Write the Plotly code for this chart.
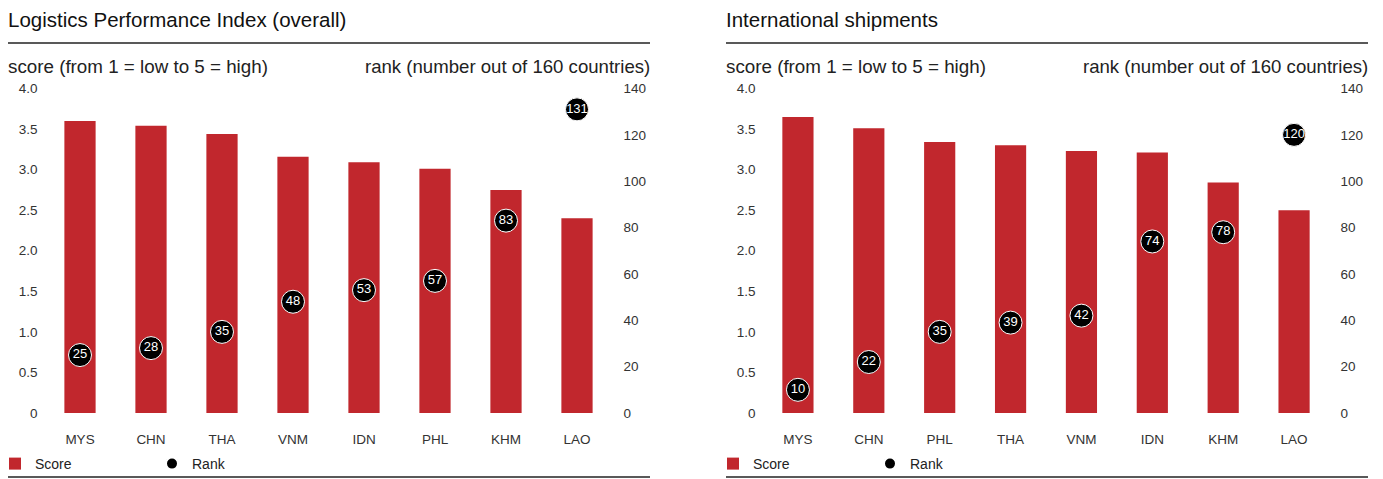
import plotly.graph_objects as go

W, H = 1383, 479
OFF = 8  # page body margin compensation

# ---- data ----
lpi_countries = ["MYS", "CHN", "THA", "VNM", "IDN", "PHL", "KHM", "LAO"]
lpi_scores = [3.60, 3.54, 3.44, 3.16, 3.09, 3.01, 2.75, 2.40]
lpi_ranks = [25, 28, 35, 48, 53, 57, 83, 131]

ship_countries = ["MYS", "CHN", "PHL", "THA", "VNM", "IDN", "KHM", "LAO"]
ship_scores = [3.65, 3.51, 3.34, 3.30, 3.23, 3.21, 2.84, 2.50]
ship_ranks = [10, 22, 35, 39, 42, 74, 78, 120]

score_ticks = [0, 0.5, 1.0, 1.5, 2.0, 2.5, 3.0, 3.5, 4.0]
score_ticktext = ["0", "0.5", "1.0", "1.5", "2.0", "2.5", "3.0", "3.5", "4.0"]
rank_ticks = [0, 20, 40, 60, 80, 100, 120, 140]

titles = ["Logistics Performance Index (overall)", "International shipments"]
left_sub = "score (from 1 = low to 5 = high)"
right_sub = "rank (number out of 160 countries)"

RED = "#C1272D"
FONT = "Liberation Sans, Arial, sans-serif"
TXT = "#222222"


def px(x):
    return (x - OFF) / W


def py(y):
    return 1 - (y - OFF) / H


fig = go.Figure()

panels = [
    (lpi_countries, lpi_scores, lpi_ranks, "x", "y", "y2", "legend"),
    (ship_countries, ship_scores, ship_ranks, "x2", "y3", "y4", "legend2"),
]

for cats, scores, ranks, xa, ya, ya2, lg in panels:
    fig.add_trace(go.Bar(
        x=cats, y=scores, name="Score", marker=dict(color=RED, line=dict(width=0)),
        width=0.44, xaxis=xa, yaxis=ya, legend=lg,
    ))
    fig.add_trace(go.Scatter(
        x=cats, y=ranks, name="Rank", mode="markers+text",
        text=[str(r) for r in ranks], textposition="middle center",
        textfont=dict(color="white", size=13, family=FONT),
        marker=dict(color="black", size=23, line=dict(color="white", width=1)),
        xaxis=xa, yaxis=ya2, legend=lg, cliponaxis=False,
    ))

ydom = [py(413), py(88.5)]
axis_font = dict(family=FONT, size=13.5, color="#333333")
cat_font = dict(family=FONT, size=13.5, color="#333333")

common_x = dict(showgrid=False, zeroline=False, showline=False, ticks="",
                tickfont=cat_font, ticklabelstandoff=16, fixedrange=True,
                automargin=False, range=[-0.5, 7.5], type="category")
common_y = dict(showgrid=False, zeroline=False, showline=False, ticks="",
                tickfont=axis_font, fixedrange=True, automargin=False)

leg_common = dict(orientation="h", xanchor="left", yanchor="middle",
                  entrywidth=112, entrywidthmode="pixels", itemsizing="constant",
                  font=dict(family=FONT, size=14, color=TXT), bgcolor="rgba(0,0,0,0)",
                  traceorder="normal", borderwidth=0)

fig.update_layout(
    template="none",
    xaxis=dict(domain=[px(44.5), px(612.5)], anchor="y", **common_x),
    yaxis=dict(domain=ydom, range=[0, 4], tickvals=score_ticks, ticktext=score_ticktext,
               anchor="x", ticklabelstandoff=6, **common_y),
    yaxis2=dict(range=[0, 140], tickvals=rank_ticks, overlaying="y", side="right",
                anchor="x", ticklabelstandoff=10, **common_y),
    xaxis2=dict(domain=[px(762.5), px(1329.5)], anchor="y3", **common_x),
    yaxis3=dict(domain=ydom, range=[0, 4], tickvals=score_ticks, ticktext=score_ticktext,
                anchor="x2", ticklabelstandoff=6, **common_y),
    yaxis4=dict(range=[0, 140], tickvals=rank_ticks, overlaying="y3", side="right",
                anchor="x2", ticklabelstandoff=10, **common_y),
    width=W, height=H,
    margin=dict(l=0, r=0, t=0, b=0, pad=0, autoexpand=False),
    paper_bgcolor="white", plot_bgcolor="white",
    font=dict(family=FONT, color=TXT),
    showlegend=True,
    legend=dict(x=px(-5), y=py(464), **leg_common),
    legend2=dict(x=px(713), y=py(464), **leg_common),
)

annotations = []
shapes = []
for i, off in enumerate([0, 718]):
    annotations.append(dict(text=titles[i], xref="paper", yref="paper", x=px(6 + off), y=py(19),
                            xanchor="left", yanchor="middle", showarrow=False,
                            font=dict(family=FONT, size=20.5, color="#111111")))
    annotations.append(dict(text=left_sub, xref="paper", yref="paper", x=px(6 + off), y=py(66),
                            xanchor="left", yanchor="middle", showarrow=False,
                            font=dict(family=FONT, size=18.8, color=TXT)))
    annotations.append(dict(text=right_sub, xref="paper", yref="paper", x=px(652 + off), y=py(66),
                            xanchor="right", yanchor="middle", showarrow=False,
                            font=dict(family=FONT, size=18.6, color=TXT)))
    shapes.append(dict(type="line", xref="paper", yref="paper", x0=px(8 + off), x1=px(650 + off),
                       y0=py(43), y1=py(43), line=dict(color="#222222", width=1.5)))
    shapes.append(dict(type="line", xref="paper", yref="paper", x0=px(8 + off), x1=px(650 + off),
                       y0=py(477), y1=py(477), line=dict(color="#222222", width=1.5)))

fig.update_layout(annotations=annotations, shapes=shapes)

fig.write_html("out.html")
